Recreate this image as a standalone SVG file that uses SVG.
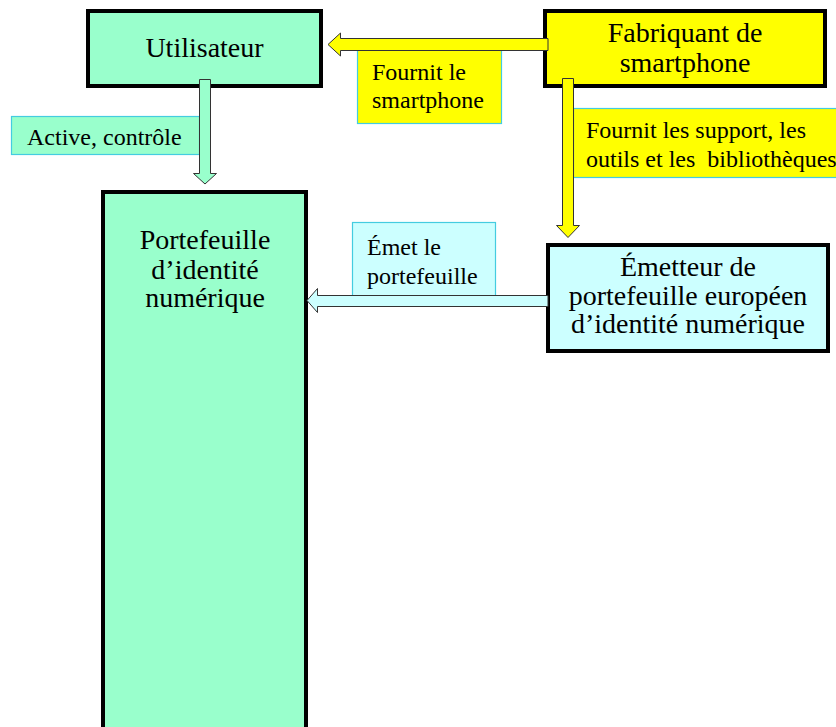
<svg xmlns="http://www.w3.org/2000/svg" width="836" height="727" viewBox="0 0 836 727">
  <style>
    .box { stroke: #000; stroke-width: 4; }
    .green { fill: #99FFCC; }
    .yellow { fill: #FFFF00; }
    .cyan { fill: #CCFFFF; }
    text { font-family: 'Liberation Serif', 'Times New Roman', serif; fill: #000; white-space: pre; }
    .title { font-size: 28px; text-anchor: middle; }
    .lbl { font-size: 24px; }
    .lblbox { stroke: #44CCE0; stroke-width: 1.2; }
    .arrow { stroke: #333; stroke-width: 1; stroke-linejoin: miter; }
  </style>
  <rect width="836" height="727" fill="#FFFFFF"/>

  <!-- nodes -->
  <g id="utilisateur">
    <rect class="box green" x="88" y="11" width="233" height="75"/>
    <text class="title" x="204.5" y="57">Utilisateur</text>
  </g>

  <g id="fabriquant">
    <rect class="box yellow" x="545" y="11" width="280" height="75"/>
    <text class="title" x="685" y="42">Fabriquant de</text>
    <text class="title" x="685" y="72">smartphone</text>
  </g>

  <g id="portefeuille">
    <rect class="box green" x="103" y="192" width="203" height="540"/>
    <text class="title" x="205" y="249">Portefeuille</text>
    <text class="title" x="205" y="279">d’identité</text>
    <text class="title" x="205" y="307">numérique</text>
  </g>

  <g id="emetteur">
    <rect class="box cyan" x="548" y="245" width="280" height="106"/>
    <text class="title" x="688" y="276">Émetteur de</text>
    <text class="title" x="688" y="305">portefeuille européen</text>
    <text class="title" x="688" y="333">d’identité numérique</text>
  </g>

  <!-- connectors with their labels -->
  <g id="connectors">
    <g id="label-fournit-smartphone">
      <rect class="yellow lblbox" x="357.5" y="48.5" width="144" height="75"/>
      <text class="lbl" x="372" y="80">Fournit le</text>
      <text class="lbl" x="372" y="108">smartphone</text>
    </g>
    <g id="label-fournit-outils">
      <rect class="yellow lblbox" x="573.5" y="108.5" width="270" height="69"/>
      <text class="lbl" x="586" y="138">Fournit les support, les</text>
      <text class="lbl" x="586" y="167" xml:space="preserve">outils et les  bibliothèques</text>
    </g>
    <g id="label-active">
      <rect class="green lblbox" x="11.5" y="116.5" width="188" height="38"/>
      <text class="lbl" x="27" y="145">Active, contrôle</text>
    </g>
    <g id="label-emet">
      <rect class="cyan lblbox" x="352.5" y="222.5" width="143" height="74"/>
      <text class="lbl" x="367" y="255">Émet le</text>
      <text class="lbl" x="367" y="284">portefeuille</text>
    </g>

    <!-- Fabriquant -> Utilisateur -->
    <polygon class="arrow yellow" points="548,38.5 340.5,38.5 340.5,33 328,44.5 340.5,56 340.5,50.5 548,50.5"/>
    <!-- Fabriquant -> Émetteur -->
    <polygon class="arrow yellow" points="562.5,78.5 573.5,78.5 573.5,225.5 579.5,225.5 568,237.5 556.5,225.5 562.5,225.5"/>
    <!-- Utilisateur -> Portefeuille -->
    <polygon class="arrow green" points="199.5,79.5 210.5,79.5 210.5,173.5 216.5,173.5 205,184 193.5,173.5 199.5,173.5"/>
    <!-- Émetteur -> Portefeuille -->
    <polygon class="arrow cyan" points="548,295.5 317.5,295.5 317.5,288.5 307,300.5 317.5,312.5 317.5,306.5 548,306.5"/>
  </g>
</svg>
